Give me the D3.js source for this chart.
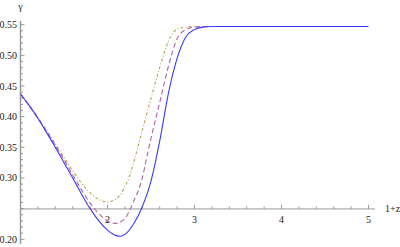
<!DOCTYPE html>
<html><head><meta charset="utf-8">
<script src="https://cdn.jsdelivr.net/npm/d3@7"></script>
<style>body{margin:0;background:#fff}svg{display:block}</style>
</head><body>
<svg id="c" width="400" height="247"></svg>
<script>
// Data
const blueX = [1.0,1.1,1.2,1.3,1.4,1.5,1.6,1.7,1.8,1.9,2.0,2.1,2.15,2.2,2.3,2.4,2.5,2.6,2.7,2.8,2.9,3.0,3.1,3.2,4.0,5.0];
const blueY = [0.437,0.418,0.397,0.374,0.350,0.325,0.300,0.274,0.250,0.230,0.215,0.206,0.205,0.208,0.225,0.253,0.295,0.360,0.438,0.495,0.530,0.542,0.546,0.547,0.547,0.547];
const redX  = [1.0,1.1,1.2,1.3,1.4,1.5,1.6,1.7,1.8,1.9,2.0,2.09,2.2,2.26,2.3,2.4,2.45,2.5,2.6,2.7,2.8,2.9,3.0,3.1,4.0,5.0];
const redY  = [0.437,0.418,0.398,0.376,0.353,0.330,0.305,0.281,0.259,0.242,0.230,0.226,0.234,0.249,0.262,0.300,0.333,0.365,0.423,0.482,0.527,0.542,0.546,0.547,0.547,0.547];
const goldX = [1.0,1.1,1.2,1.3,1.4,1.5,1.6,1.7,1.8,1.9,1.99,2.1,2.18,2.25,2.32,2.4,2.5,2.6,2.7,2.76,2.85,3.0,4.0,5.0];
const goldY = [0.437,0.419,0.399,0.378,0.356,0.334,0.312,0.292,0.276,0.265,0.261,0.266,0.280,0.302,0.335,0.378,0.430,0.480,0.523,0.538,0.545,0.547,0.547,0.547];
const xTickVals = [2,3,4,5];
const yTickVals = [0.20,0.30,0.35,0.40,0.45,0.50,0.55];

const FONT = "'Liberation Serif', 'Times New Roman', serif";
const svg = d3.select("#c");
const x = d3.scaleLinear().domain([1,5]).range([20.5,368.5]);
const y = d3.scaleLinear().domain([0.20,0.55]).range([239.3,24.7]);
const axisY0 = 0.2495;
const axisCol = "#999";

// x axis
const y0 = y(axisY0);
svg.append("line").attr("x1",x(1)).attr("x2",375).attr("y1",y0).attr("y2",y0).attr("stroke",axisCol).attr("stroke-width",1);
d3.range(1,5.01,0.2).forEach(v=>{
  const major = Math.abs(v-Math.round(v))<1e-6;
  svg.append("line").attr("x1",x(v)).attr("x2",x(v)).attr("y1",y0).attr("y2",y0-(major?4:2.5)).attr("stroke",axisCol).attr("stroke-width",1);
});
xTickVals.forEach(v=>{
  svg.append("text").attr("x",x(v)).attr("y",y0+14).attr("text-anchor","middle")
    .attr("font-family",FONT).attr("font-size",10).attr("fill","#222").text(v);
});
svg.append("text").attr("x",385).attr("y",y0+3.5).attr("font-family",FONT).attr("font-size",10).attr("fill","#222").text("1+z");

// y axis
const x0 = x(1);
svg.append("line").attr("x1",x0).attr("x2",x0).attr("y1",21).attr("y2",244).attr("stroke",axisCol).attr("stroke-width",1.5);
d3.range(0.20,0.5551,0.01).forEach(v=>{
  const major = Math.abs(v*20-Math.round(v*20))<1e-6;
  svg.append("line").attr("x1",x0).attr("x2",x0+(major?4:2.5)).attr("y1",y(v)).attr("y2",y(v)).attr("stroke",axisCol).attr("stroke-width",1);
});
yTickVals.forEach(v=>{
  svg.append("text").attr("x",x0-3.5).attr("y",y(v)+3.5).attr("text-anchor","end")
    .attr("font-family",FONT).attr("font-size",10).attr("fill","#222").text(v.toFixed(2));
});
svg.append("text").attr("x",x0).attr("y",10).attr("text-anchor","middle")
  .attr("font-family",FONT).attr("font-size",10).attr("fill","#222").text("γ");

// curves
const line = d3.line().x(d=>x(d[0])).y(d=>y(d[1])).curve(d3.curveMonotoneX);
const series = [
  {xs:goldX, ys:goldY, color:"#b9a05a", dash:"3,2,1,2"},
  {xs:redX, ys:redY, color:"#b2619c", dash:"5,3"},
  {xs:blueX, ys:blueY, color:"#3a3aff", dash:null}
];
series.forEach(s=>{
  const pts = s.xs.map((v,i)=>[v,s.ys[i]]);
  const p = svg.append("path").attr("d",line(pts)).attr("fill","none").attr("stroke",s.color).attr("stroke-width",1.1);
  if(s.dash) p.attr("stroke-dasharray",s.dash);
});
</script>
</body></html>
